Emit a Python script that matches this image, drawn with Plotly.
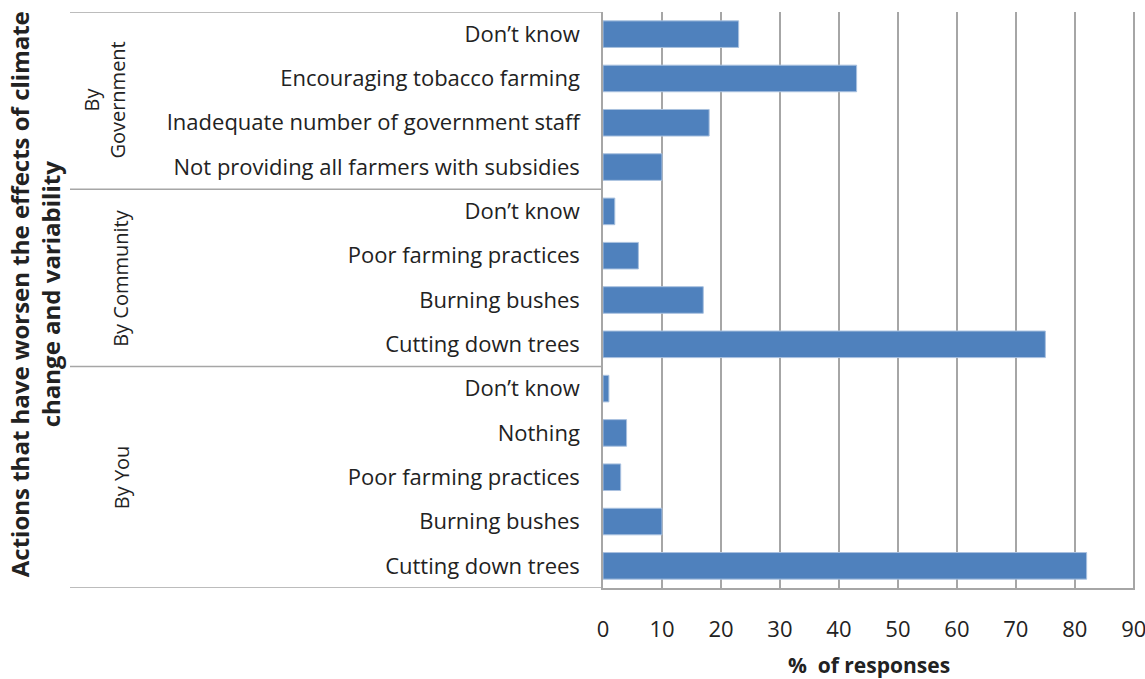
import plotly.graph_objects as go

# Categories from top to bottom
groups = ["By Government"] * 4 + ["By Community"] * 4 + ["By You"] * 5
labels = [
    "Don’t know", "Encouraging tobacco farming", "Inadequate number of government staff",
    "Not providing all farmers with subsidies",
    "Don’t know", "Poor farming practices", "Burning bushes", "Cutting down trees",
    "Don’t know", "Nothing", "Poor farming practices", "Burning bushes", "Cutting down trees",
]
values = [23, 43, 18, 10, 2, 6, 17, 75, 1, 4, 3, 10, 82]
x_ticks = [0, 10, 20, 30, 40, 50, 60, 70, 80, 90]

n = len(labels)
ypos = list(range(n))  # index positions, top to bottom (axis reversed)

FONT = "Open Sans"
fig = go.Figure()
fig.add_trace(go.Bar(
    x=values, y=ypos, orientation="h", width=0.6,
    marker=dict(color="#4F81BD", line=dict(color="#A9C1DF", width=1)),
    showlegend=False, hoverinfo="x",
))

L, R, T, B = 603, 10, 12, 91
W, H = 1145, 679
pw = W - L - R

fig.update_layout(
    width=W, height=H, margin=dict(l=L, r=R, t=T, b=B),
    paper_bgcolor="white", plot_bgcolor="white",
    font=dict(family=FONT, size=20, color="#222"),
)
fig.update_xaxes(
    range=[0, 90.2], tickvals=x_ticks, showgrid=True, gridcolor="#A6A6A6", gridwidth=1.5,
    showline=True, linecolor="#A6A6A6", linewidth=1.5, zeroline=False, automargin=False,
    tickfont=dict(size=22, family=FONT), ticklabelstandoff=21, ticklabeloverflow="allow",
    title=dict(text="<b>%  of responses</b>", font=dict(size=21, family=FONT), standoff=26),
)
fig.update_yaxes(
    range=[n - 0.5, -0.5], tickmode="array", tickvals=ypos, ticktext=labels,
    showgrid=False, showline=True, linecolor="#A6A6A6", linewidth=1.5, zeroline=False,
    automargin=False, tickfont=dict(size=22, family=FONT), ticklabelstandoff=17,
)

# Group separators extending left of the plot
left_paper = -(L - 70) / pw
bounds = [-0.5, 3.5, 7.5, n - 0.5]
for b in bounds:
    fig.add_shape(type="line", xref="paper", yref="y", x0=left_paper, x1=0, y0=b, y1=b,
                  line=dict(color="#A6A6A6", width=1.5))

# Group labels
group_names = ["By<br>Government", "By Community", "By You"]
group_x = [105, 121, 121]
for i, g in enumerate(group_names):
    yc = (bounds[i] + bounds[i + 1]) / 2
    fig.add_annotation(text=g, xref="paper", yref="y", x=-(L - group_x[i]) / pw,
                       y=yc, textangle=-90, showarrow=False, font=dict(size=20, family=FONT),
                       xanchor="center", yanchor="middle")

# Y axis title (two lines, rotated)
fig.add_annotation(text="<b>Actions that have worsen the effects of climate<br>change and variability</b>",
                   xref="paper", yref="paper", x=-(L - 35) / pw, y=0.51, textangle=-90,
                   showarrow=False, font=dict(size=24, family=FONT), xanchor="center", yanchor="middle")

fig.write_html("out.html")
